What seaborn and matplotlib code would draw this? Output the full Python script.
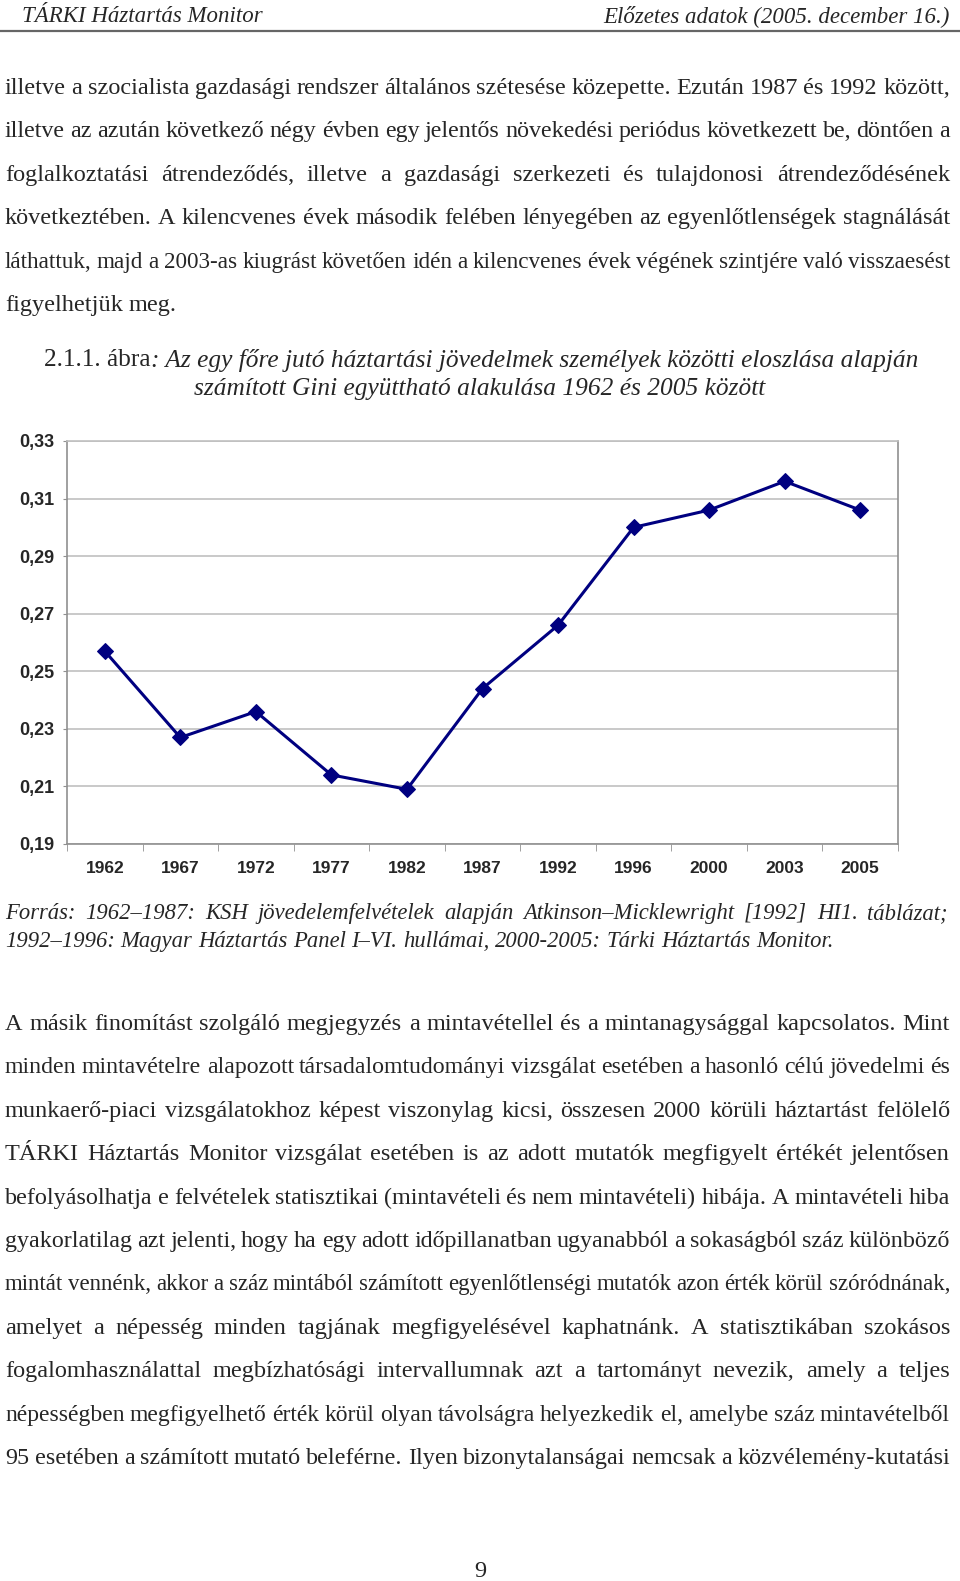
# -*- coding: utf-8 -*-

import numpy as np
import matplotlib
matplotlib.use('Agg')
import matplotlib.pyplot as plt
import pandas as pd
import seaborn as sns

# adatok (Gini együttható)
evek = ['1962', '1967', '1972', '1977', '1982', '1987', '1992', '1996', '2000', '2003', '2005']
gini = [0.257, 0.227, 0.236, 0.214, 0.209, 0.244, 0.266, 0.300, 0.306, 0.316, 0.306]
y_ticks = [0.19, 0.21, 0.23, 0.25, 0.27, 0.29, 0.31, 0.33]
y_labels = ['0,19', '0,21', '0,23', '0,25', '0,27', '0,29', '0,31', '0,33']

fejlec_bal = 'TÁRKI Háztartás Monitor'
fejlec_jobb = 'Előzetes adatok (2005. december 16.)'

bekezdes1 = [
    'illetve a szocialista gazdasági rendszer általános szétesése közepette. Ezután 1987 és 1992 között,',
    'illetve az azután következő négy évben egy jelentős növekedési periódus következett be, döntően a',
    'foglalkoztatási átrendeződés, illetve a gazdasági szerkezeti és tulajdonosi átrendeződésének',
    'következtében. A kilencvenes évek második felében lényegében az egyenlőtlenségek stagnálását',
    'láthattuk, majd a 2003-as kiugrást követően idén a kilencvenes évek végének szintjére való visszaesést',
    'figyelhetjük meg.',
]
abra_cim_eleje = '2.1.1. ábra'
abra_cim1 = ': Az egy főre jutó háztartási jövedelmek személyek közötti eloszlása alapján'
abra_cim2 = 'számított Gini együttható alakulása 1962 és 2005 között'
forras = [
    'Forrás: 1962–1987: KSH jövedelemfelvételek alapján Atkinson–Micklewright [1992] HI1. táblázat;',
    '1992–1996: Magyar Háztartás Panel I–VI. hullámai, 2000-2005: Tárki Háztartás Monitor.',
]
bekezdes2 = [
    'A másik finomítást szolgáló megjegyzés a mintavétellel és a mintanagysággal kapcsolatos. Mint',
    'minden mintavételre alapozott társadalomtudományi vizsgálat esetében a hasonló célú jövedelmi és',
    'munkaerő-piaci vizsgálatokhoz képest viszonylag kicsi, összesen 2000 körüli háztartást felölelő',
    'TÁRKI Háztartás Monitor vizsgálat esetében is az adott mutatók megfigyelt értékét jelentősen',
    'befolyásolhatja e felvételek statisztikai (mintavételi és nem mintavételi) hibája. A mintavételi hiba',
    'gyakorlatilag azt jelenti, hogy ha egy adott időpillanatban ugyanabból a sokaságból száz különböző',
    'mintát vennénk, akkor a száz mintából számított egyenlőtlenségi mutatók azon érték körül szóródnának,',
    'amelyet a népesség minden tagjának megfigyelésével kaphatnánk. A statisztikában szokásos',
    'fogalomhasználattal megbízhatósági intervallumnak azt a tartományt nevezik, amely a teljes',
    'népességben megfigyelhető érték körül olyan távolságra helyezkedik el, amelybe száz mintavételből',
    '95 esetében a számított mutató beleférne. Ilyen bizonytalanságai nemcsak a közvélemény-kutatási',
]

W, H = 960, 1581
SERIF = 'Liberation Serif'
BODY = 17.5


def fx(x):
    return x / W


def fy(y):
    return 1 - y / H


def sor(fig, r, y, szoveg, x0=5, x1=950, size=BODY, style='normal', sorkizart=True):
    szavak = szoveg.split(' ')
    objs = [fig.text(0, fy(y), s, fontsize=size, family=SERIF, style=style,
                     ha='left', va='center_baseline') for s in szavak]
    szel = [o.get_window_extent(r).width for o in objs]
    min_hezag = size * 100 / 72 * 0.22
    kell = sum(szel) + min_hezag * (len(szavak) - 1)
    if sorkizart and kell > x1 - x0:
        # túl hosszú sor: kisebb betű
        k = (x1 - x0) / kell
        size = size * k
        for o in objs:
            o.set_fontsize(size)
        szel = [o.get_window_extent(r).width for o in objs]
    if sorkizart and len(szavak) > 1:
        hezag = (x1 - x0 - sum(szel)) / (len(szavak) - 1)
    else:
        hezag = size * 100 / 72 * 0.25
    x = x0
    for o, w in zip(objs, szel):
        o.set_x(fx(x))
        x += w + hezag


sns.set_style('white')
fig = plt.figure(figsize=(W / 100, H / 100), dpi=100)
r = fig.canvas.get_renderer()

# fejléc
fig.text(fx(22), fy(16), fejlec_bal, fontsize=16.5, family=SERIF, style='italic', va='center')
fig.text(fx(950), fy(16), fejlec_jobb, fontsize=16.5, family=SERIF, style='italic', va='center', ha='right')
fig.add_artist(plt.Line2D([0, 1], [fy(31), fy(31)], color='#666666', lw=1.6))

for i, s in enumerate(bekezdes1):
    sor(fig, r, 86 + i * 43.4, s, sorkizart=(i < len(bekezdes1) - 1))

# ábra címe
CIM = 18.3
t1 = fig.text(0, fy(358), abra_cim_eleje, fontsize=CIM, family=SERIF, va='center_baseline')
t2 = fig.text(0, fy(358), abra_cim1, fontsize=CIM, family=SERIF, style='italic', va='center_baseline')
w1 = t1.get_window_extent(r).width
w2 = t2.get_window_extent(r).width
xs = 481 - (w1 + w2) / 2
t1.set_x(fx(xs))
t2.set_x(fx(xs + w1))
fig.text(fx(480), fy(386), abra_cim2, fontsize=CIM, family=SERIF, style='italic', ha='center', va='center_baseline')

# diagram
ax = fig.add_axes([fx(67), fy(844), fx(898 - 67), (844 - 441) / H])
df = pd.DataFrame({'ev': evek, 'gini': gini})
sns.lineplot(data=df, x='ev', y='gini', ax=ax, color='#000080', lw=2.2,
             marker='D', markersize=8, markeredgecolor='#000080', sort=False)
ax.set_xlim(-0.5, len(evek) - 0.5)
ax.set_ylim(0.19, 0.33)
ax.set_yticks(y_ticks)
ax.set_yticklabels(y_labels)
ax.set_xticks(range(len(evek)))
ax.set_xticklabels(evek)
ax.set_xticks(np.arange(-0.5, len(evek), 1), minor=True)
ax.set_xlabel('')
ax.set_ylabel('')
ax.grid(axis='y', color='#c0c0c0', lw=1.2)
ax.set_axisbelow(True)
for sp in ax.spines.values():
    sp.set_visible(True)
    sp.set_color('#909090')
    sp.set_linewidth(1.2)
ax.spines['top'].set_color('#c0c0c0')
ax.tick_params(axis='x', which='major', length=0, pad=12)
ax.tick_params(axis='x', which='minor', length=5, color='#909090', direction='out', bottom=True)
ax.tick_params(axis='y', length=3, color='#909090', direction='out', left=True, pad=6)
for lab in ax.get_xticklabels():
    lab.set_fontfamily('Liberation Sans')
    lab.set_fontweight('bold')
    lab.set_fontsize(12.5)
for lab in ax.get_yticklabels():
    lab.set_fontfamily('Liberation Sans')
    lab.set_fontweight('bold')
    lab.set_fontsize(13)

# forrás
sor(fig, r, 911, forras[0], x0=5, x1=948, size=16.3, style='italic')
sor(fig, r, 939, forras[1], size=16.3, style='italic', sorkizart=False)

for i, s in enumerate(bekezdes2):
    sor(fig, r, 1022 + i * 43.4, s)

fig.text(fx(480), fy(1569), '9', fontsize=BODY, family=SERIF, ha='center', va='center_baseline')

plt.savefig('out.png', dpi=100)
